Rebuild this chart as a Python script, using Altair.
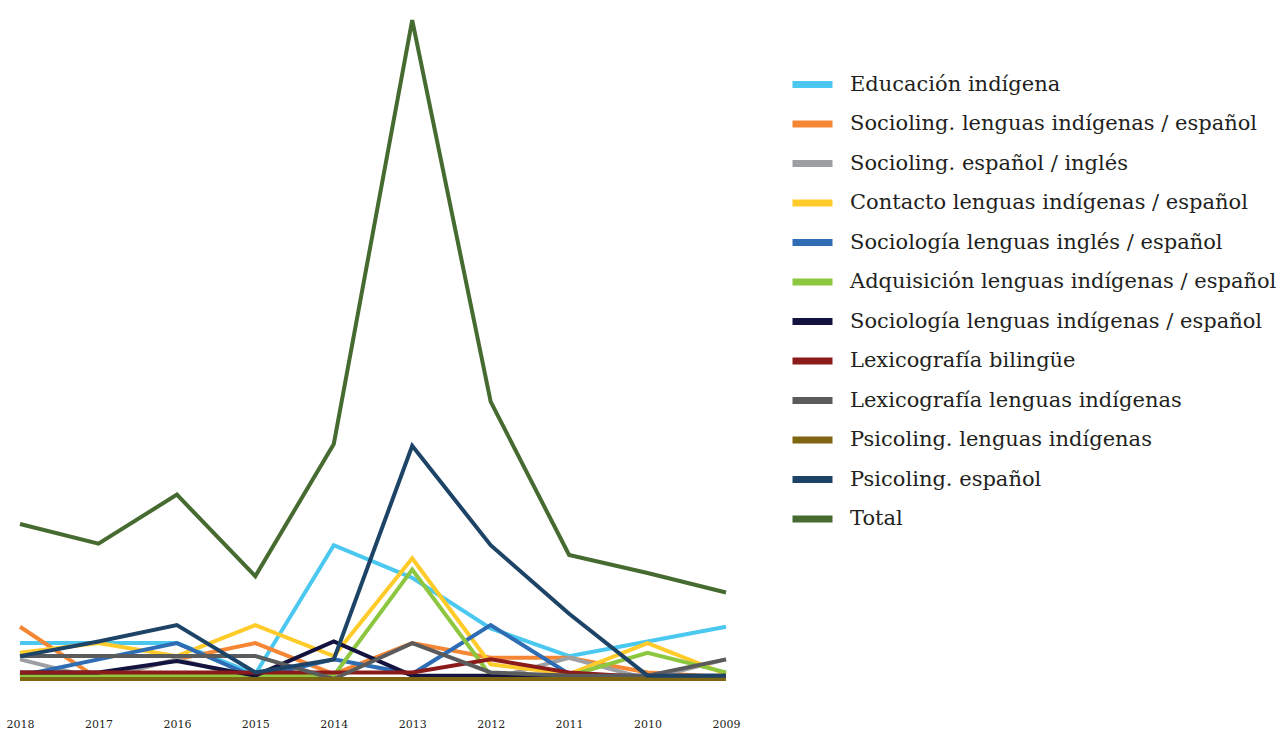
import altair as alt
import pandas as pd

years = ["2018", "2017", "2016", "2015", "2014", "2013", "2012", "2011", "2010", "2009"]

series = [
    "Educación indígena",
    "Socioling. lenguas indígenas / español",
    "Socioling. español / inglés",
    "Contacto lenguas indígenas / español",
    "Sociología lenguas inglés / español",
    "Adquisición lenguas indígenas / español",
    "Sociología lenguas indígenas / español",
    "Lexicografía bilingüe",
    "Lexicografía lenguas indígenas",
    "Psicoling. lenguas indígenas",
    "Psicoling. español",
    "Total",
]

colors = [
    "#4BC8F0", "#F58634", "#9D9FA2", "#FFCB2B", "#2E6DB4", "#8DC63F",
    "#14133F", "#8B1A1A", "#5A5B5D", "#7E6511", "#1D4467", "#466B30",
]

educacion = [2.0, 2.0, 2.0, 0.1, 8.0, 6.0, 2.9, 1.2, 2.1, 3.0]
socio_ind = [3.0, -0.2, 1.0, 2.0, 0.1, 2.0, 1.1, 1.1, 0.2, -0.1]
socio_ing = [1.0, -0.2, 1.0, -0.2, -0.2, -0.2, -0.2, 1.1, -0.2, 1.0]
contacto = [1.4, 2.0, 1.2, 3.1, 1.2, 7.2, 0.7, 0.1, 2.0, 0.1]
sociol_ing = [0.0, 1.0, 2.0, -0.1, 1.0, 0.1, 3.1, 0.1, -0.1, -0.1]
adquisicion = [0.0, 0.0, 0.0, 0.0, 0.0, 6.5, 0.0, 0.0, 1.4, 0.2]
sociol_ind = [0.2, 0.2, 0.9, 0.0, 2.1, 0.0, 0.0, 0.0, 0.0, 0.0]
lexi_bil = [0.2, 0.2, 0.2, 0.2, 0.2, 0.2, 1.0, 0.2, -0.1, -0.1]
lexi_ind = [1.2, 1.2, 1.2, 1.2, -0.2, 2.0, 0.2, 0.0, 0.0, 1.0]
psico_ind = [-0.2, -0.2, -0.2, -0.2, -0.2, -0.2, -0.2, -0.2, -0.2, -0.2]
psico_esp = [1.2, 2.1, 3.1, 0.2, 1.0, 14.1, 8.0, 3.8, 0.0, 0.0]
total = [9.3, 8.1, 11.1, 6.1, 14.2, 40.2, 16.8, 7.4, 6.3, 5.1]

all_values = [educacion, socio_ind, socio_ing, contacto, sociol_ing, adquisicion,
              sociol_ind, lexi_bil, lexi_ind, psico_ind, psico_esp, total]

# drawing order (bottom first)
draw_order = {
    "Psicoling. lenguas indígenas": 0,
    "Lexicografía bilingüe": 1,
    "Sociología lenguas indígenas / español": 2,
    "Adquisición lenguas indígenas / español": 3,
    "Sociología lenguas inglés / español": 4,
    "Lexicografía lenguas indígenas": 5,
    "Contacto lenguas indígenas / español": 6,
    "Socioling. lenguas indígenas / español": 7,
    "Educación indígena": 8,
    "Socioling. español / inglés": 9,
    "Psicoling. español": 10,
    "Total": 11,
}

rows = []
for name, vals in zip(series, all_values):
    for y, v in zip(years, vals):
        rows.append({"Año": y, "Serie": name, "Valor": v, "orden": draw_order[name]})
df = pd.DataFrame(rows)

font = "DejaVu Serif"
text_color = "#231F20"

chart = alt.Chart(df).mark_line(strokeWidth=4, strokeJoin="miter").encode(
    x=alt.X("Año:O", sort=years,
            scale=alt.Scale(type="point", padding=0),
            axis=alt.Axis(title=None, labelAngle=0, domain=False, ticks=False, grid=False,
                          labelFont=font, labelFontSize=11, labelColor=text_color,
                          labelPadding=26)),
    y=alt.Y("Valor:Q", scale=alt.Scale(domain=[-1, 41], nice=False, zero=False), axis=None),
    color=alt.Color("Serie:N", sort=series,
                    scale=alt.Scale(domain=series, range=colors),
                    legend=alt.Legend(title=None, orient="none", legendX=769, legendY=54,
                                      symbolType="stroke", symbolSize=1600, symbolStrokeWidth=7,
                                      labelFont=font, labelFontSize=21, labelColor=text_color,
                                      labelOffset=14, rowPadding=1.5, labelLimit=600)),
    detail="orden:O",
).properties(
    width=706, height=685,
    autosize=alt.AutoSizeParams(type="none"),
    padding={"left": 20, "top": 7, "right": 555, "bottom": 39},
    background="white",
).configure_view(stroke=None)

chart.save("out.html", embed_options={"renderer": "svg", "actions": False})
